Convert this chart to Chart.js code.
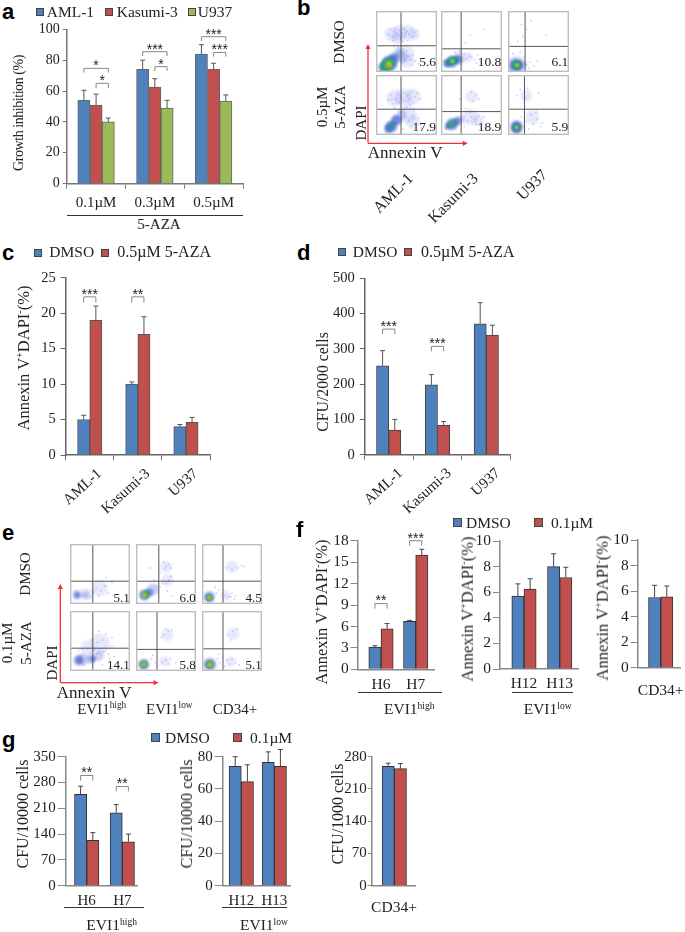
<!DOCTYPE html>
<html lang="en">
<head>
<meta charset="UTF-8">
<title>5-AZA growth inhibition and apoptosis</title>
<script src="https://cdn.jsdelivr.net/npm/chart.js"></script>
<style>
    html, body { margin: 0; padding: 0; background: #fff; }
    body { width: 685px; height: 932px; position: relative; overflow: hidden; font-family: "Liberation Serif", serif; color: #222; }
    canvas { position: absolute; }
    .t { position: absolute; white-space: nowrap; line-height: 1; }
    .t sup { font-size: 62%; line-height: 0; vertical-align: 0.55em; }
    .letter { font-family: "Liberation Sans", sans-serif; font-weight: bold; color: #000; }
    .sq { position: absolute; box-sizing: border-box; border: 1px solid #444; }
    .rule { position: absolute; height: 1px; background: #333; }
    svg { position: absolute; left: 0; top: 0; }
</style>
</head>
<body>
<svg width="685" height="932">
    <g stroke="#f2303c" stroke-width="1.3" fill="#f2303c">
        <path d="M368 143.3V48M368 143.3H464" fill="none"/>
        <path d="M368 44l-2.6 5h5.2zM467.7 143.3l-5-2.6v5.2z" stroke="none"/>
        <path d="M60.3 682.7V588M60.3 682.7H155" fill="none"/>
        <path d="M60.3 584l-2.6 5h5.2zM158.5 682.7l-5-2.6v5.2z" stroke="none"/>
    </g>
</svg>
<script>
    // Bar data ("Top" arrays are the end of the error bar)
    const aCats = ['0.1µM', '0.3µM', '0.5µM'];
    const aAml = [54, 74, 84];
    const aAmlTop = [60.5, 80, 90];
    const aKasumi = [51, 62.5, 74];
    const aKasumiTop = [58, 68, 78];
    const aU937 = [40, 49, 53.5];
    const aU937Top = [42.5, 54, 57.5];

    const lineCats = ['AML-1', 'Kasumi-3', 'U937'];
    const cDmso = [5, 10, 4];
    const cDmsoTop = [5.6, 10.3, 4.3];
    const cAza = [19, 17, 4.6];
    const cAzaTop = [21, 19.5, 5.3];

    const dDmso = [252, 198, 371];
    const dDmsoTop = [295, 227, 431];
    const dAza = [70, 83, 339];
    const dAzaTop = [100, 94, 367];

    const f1Cats = ['H6', 'H7'];
    const f1Dmso = [3.1, 6.7];
    const f1DmsoTop = [3.3, 6.85];
    const f1Aza = [5.65, 16];
    const f1AzaTop = [6.4, 16.8];

    const f2Cats = ['H12', 'H13'];
    const f2Dmso = [5.7, 8];
    const f2DmsoTop = [6.65, 9];
    const f2Aza = [6.25, 7.15];
    const f2AzaTop = [7.05, 7.95];

    const f3Dmso = [5.5];
    const f3DmsoTop = [6.45];
    const f3Aza = [5.55];
    const f3AzaTop = [6.4];

    const g1Dmso = [248, 198];
    const g1DmsoTop = [270, 220];
    const g1Aza = [123, 119];
    const g1AzaTop = [144, 140];

    const g2Dmso = [74, 76.5];
    const g2DmsoTop = [80, 83];
    const g2Aza = [64.5, 74];
    const g2AzaTop = [75, 84.5];

    const g3Dmso = [259];
    const g3DmsoTop = [266];
    const g3Aza = [254];
    const g3AzaTop = [265];

    const BLUE = '#4f81bd', RED = '#c0504d', GREEN = '#9bbb59';

    // Flow plots: [x, y] events and [x, y, radius, level] density blobs, axes 0-100
    const bAmlDmsoDots = [[20,62],[24,70],[27,58],[30,66],[33,72],[35,60],[38,68],[41,56],[43,64],[46,71],[48,60],[51,67],[54,62],[57,70],[60,58],[63,65],[66,60],[28,52],[44,50],[52,52],[45,38],[50,34],[53,26],[56,20],[48,18],[60,28],[44,14],[58,12],[64,18],[30,42],[36,40],[70,14],[22,60],[39,61],[49,64],[34,64]];
    const bAmlDmsoBlobs = [[25,62,7,6],[38,64,8,6],[52,64,8,6],[62,62,6,6],[48,30,9,6],[52,18,7,6],[35,55,6,6],[37,31,5,0],[42,26,6,0],[30,22,6,0],[22,14,8,1],[29,23,4,1],[14,8,6,2],[21,14,6,2],[16,9,4,2],[20,12,5,3],[24,16,3,3],[21,12,2.5,4],[20,11,1.5,5]];
    const bKasDmsoDots = [[42,22],[46,26],[50,24],[38,30],[30,34],[55,20],[60,28],[48,60],[70,70],[40,48],[8,10],[6,20],[58,14],[24,32]];
    const bKasDmsoBlobs = [[30,22,7,6],[44,24,5,6],[10,14,4,1],[18,17,6,1],[28,21,4.5,1],[12,15,3,2],[18,18,4,2],[25,20,3,2],[18,18,2.5,3],[19,18,1.4,4]];
    const bU937DmsoDots = [[30,12],[36,16],[42,10],[34,6],[26,24],[20,32],[24,58],[30,70],[38,84],[16,50],[48,18],[62,60],[8,30],[22,78]];
    const bU937DmsoBlobs = [[14,11,9,0],[26,12,4,6],[12,11,6,1],[17,11,5,1],[14,11,4.5,2],[14,12,3,3],[15,11,1.5,4]];
    const bAmlAzaDots = [[20,58],[24,66],[28,52],[32,60],[36,68],[38,54],[42,62],[46,70],[48,56],[52,66],[55,60],[58,72],[60,52],[64,64],[68,70],[72,60],[30,46],[50,46],[62,44],[48,30],[54,24],[60,32],[66,20],[58,14],[70,28],[44,10],[74,12],[34,56],[44,58],[56,50],[26,60]];
    const bAmlAzaBlobs = [[30,62,8,6],[45,62,9,6],[60,64,8,6],[52,34,9,6],[60,22,7,6],[42,34,5,0],[34,26,5,0],[33,24,5,1],[25,14,6,1],[20,10,4,1],[25,15,3.5,2]];
    const bKasAzaDots = [[44,24],[50,30],[56,26],[62,32],[48,38],[58,18],[66,22],[40,44],[52,56],[58,66],[50,72],[62,60],[30,60],[70,30],[8,10],[38,14],[72,14]];
    const bKasAzaBlobs = [[48,30,8,6],[60,24,6,6],[50,64,6,6],[32,26,4,0],[18,18,6,1],[26,23,4,1],[11,14,3,1],[18,18,3.5,2],[18,18,2,3]];
    const bU937AzaDots = [[26,14],[30,22],[22,30],[34,10],[38,34],[48,26],[54,14],[46,38],[50,70],[30,62],[20,76],[14,66],[56,20],[42,18],[32,78]];
    const bU937AzaBlobs = [[40,30,7,6],[30,66,6,6],[14,13,7,0],[14,15,5,1],[14,11,5,1],[14,13,3.5,2],[14,13,2.5,3],[14,13,1.2,4]];

    const eHighDmsoDots = [[26,14],[30,18],[34,12],[40,20],[44,26],[48,14],[52,22],[58,30],[64,18],[70,36],[60,44],[8,22],[20,24],[72,14],[54,38]];
    const eHighDmsoBlobs = [[50,26,8,6],[30,16,6,6],[25,15,4,0],[12,15,5,0],[12,15,3,1]];
    const eLowDmsoDots = [[30,24],[34,30],[40,28],[44,34],[50,34],[54,40],[58,46],[50,62],[54,66],[48,58],[58,60],[40,52],[52,22],[30,40],[24,60],[60,14],[46,70]];
    const eLowDmsoBlobs = [[50,62,6,6],[52,40,6,6],[28,24,6,0],[14,15,6,0],[22,19,4,1],[14,15,4.5,1],[16,16,3.5,3],[14,15,2,4],[14,15,1,5]];
    const eCdDmsoDots = [[24,18],[28,24],[38,14],[44,12],[50,18],[56,14],[60,60],[66,64],[50,58],[40,60],[54,8],[22,28],[70,62],[48,12]];
    const eCdDmsoBlobs = [[50,62,6,6],[40,14,5,6],[12,12,6,0],[12,11,4.5,1],[12,11,3,3],[12,11,1.7,4],[12,11,.9,5]];
    const eHighAzaDots = [[14,34],[20,36],[28,38],[34,30],[40,34],[44,28],[50,36],[56,32],[60,38],[64,28],[70,42],[66,20],[74,24],[46,48],[54,52],[60,62],[36,52],[48,66],[70,56],[24,10],[38,8],[54,10],[68,8],[80,14]];
    const eHighAzaBlobs = [[50,45,10,6],[30,40,7,6],[48,25,5,0],[35,20,5,0],[22,20,6,0],[15,18,6,0],[15,18,4,1],[38,20,3,1]];
    const eLowAzaDots = [[26,20],[32,14],[28,26],[44,14],[50,18],[54,12],[58,20],[46,60],[54,66],[60,68],[50,70],[42,56],[36,8],[66,14]];
    const eLowAzaBlobs = [[52,60,6,6],[48,16,5,6],[13,11,6,0],[13,11,4.5,1],[13,11,3.2,3],[13,11,1.8,4],[13,11,1,5]];
    const eCdAzaDots = [[26,20],[30,14],[34,22],[28,28],[42,18],[46,12],[50,20],[56,14],[44,60],[52,66],[58,70],[48,52],[38,8],[62,10]];
    const eCdAzaBlobs = [[52,62,6,6],[48,16,5,6],[13,11,7,0],[13,11,5,1],[13,11,3.5,3],[13,11,2,4],[13,11,1,5]];

    const flowColors = ['rgba(120,140,235,.4)', 'rgba(55,90,195,.6)', 'rgba(40,140,150,.85)', '#3cb24c', '#d6d83a', '#e2552e', 'rgba(130,140,240,.2)'];

    function text(x, y, html, size, align, rot, cls, spacing) {
        const el = document.createElement('div');
        el.className = 't' + (cls ? ' ' + cls : '');
        el.innerHTML = html;
        el.style.left = x + 'px';
        el.style.top = y + 'px';
        el.style.fontSize = size + 'px';
        if (spacing) el.style.letterSpacing = spacing + 'px';
        const tx = align === 'l' ? '0' : align === 'r' ? '-100%' : '-50%';
        el.style.transform = 'translate(' + tx + ',-50%)' + (rot ? ' rotate(' + rot + 'deg)' : '');
        document.body.appendChild(el);
    }

    function square(x, y, size, color) {
        const el = document.createElement('div');
        el.className = 'sq';
        el.style.cssText = 'left:' + x + 'px;top:' + y + 'px;width:' + size + 'px;height:' + size + 'px;background:' + color;
        document.body.appendChild(el);
    }

    function rule(x1, x2, y) {
        const el = document.createElement('div');
        el.className = 'rule';
        el.style.cssText = 'left:' + x1 + 'px;width:' + (x2 - x1) + 'px;top:' + y + 'px';
        document.body.appendChild(el);
    }

    // error bars and significance brackets, drawn from the chart's own scales
    const marksPlugin = {
        id: 'marks',
        afterDatasetsDraw(chart, args, opts) {
            const c = chart.ctx, y = chart.scales.y;
            c.save();
            c.strokeStyle = opts.errColor;
            c.lineWidth = 1;
            chart.data.datasets.forEach((ds, d) => {
                chart.getDatasetMeta(d).data.forEach((bar, i) => {
                    const top = y.getPixelForValue(ds.tops[i]);
                    c.beginPath();
                    c.moveTo(bar.x, y.getPixelForValue(ds.data[i].y));
                    c.lineTo(bar.x, top);
                    c.moveTo(bar.x - 2.5, top);
                    c.lineTo(bar.x + 2.5, top);
                    c.stroke();
                });
            });
            (opts.brackets || []).forEach(b => {
                const x1 = chart.getDatasetMeta(b.from).data[b.group].x;
                const x2 = chart.getDatasetMeta(b.to).data[b.group].x;
                const yt = y.getPixelForValue(b.top), yb = y.getPixelForValue(b.bottom);
                c.strokeStyle = '#888';
                c.beginPath();
                c.moveTo(x1, yb);
                c.lineTo(x1, yt);
                c.lineTo(x2, yt);
                c.lineTo(x2, yb);
                c.stroke();
                c.fillStyle = '#222';
                c.font = '14px "Liberation Sans"';
                c.textAlign = 'center';
                c.textBaseline = 'middle';
                c.fillText(b.label, (x1 + x2) / 2, yt - 2);
            });
            c.restore();
        }
    };

    // soft edges on the density blobs (dataset 0), events stay a little crisper
    const gatePlugin = {
        id: 'gate',
        beforeDatasetDraw(chart, args) {
            chart.ctx.save();
            chart.ctx.filter = args.index === 0 ? 'blur(1.3px)' : 'blur(0.5px)';
        },
        afterDatasetDraw(chart) {
            chart.ctx.restore();
        },
        afterDatasetsDraw(chart, args, opts) {
            const c = chart.ctx, a = chart.chartArea;
            const gx = chart.scales.x.getPixelForValue(opts.x), gy = chart.scales.y.getPixelForValue(opts.y);
            c.save();
            c.strokeStyle = '#555';
            c.lineWidth = 1;
            c.beginPath();
            c.moveTo(gx, a.top);
            c.lineTo(gx, a.bottom);
            c.moveTo(a.left, gy);
            c.lineTo(a.right, gy);
            c.stroke();
            c.strokeStyle = '#bdbdbd';
            c.lineWidth = 1.4;
            c.strokeRect(a.left + .7, a.top + .7, a.right - a.left - 1.4, a.bottom - a.top - 1.4);
            c.restore();
        }
    };

    // g: pixel box of the plot, series: [values, tops, colour]
    function barPanel(g) {
        const ml = 46, mt = 18, mr = 6, mb = g.bottomSpace || 26;
        const cv = document.createElement('canvas');
        const cl = Math.floor(g.left) - ml, ct = Math.floor(g.top) - mt;
        const w = Math.ceil(g.right) + mr - cl, h = Math.ceil(g.bottom) + mb - ct;
        cv.width = w;
        cv.height = h;
        cv.style.left = cl + 'px';
        cv.style.top = ct + 'px';
        document.body.appendChild(cv);

        const fixY = s => {
            s.width = g.left - cl;
            s.paddingTop = s.paddingBottom = s.paddingLeft = s.paddingRight = 0;
        };
        const fixX = s => {
            s.height = ct + h - g.bottom;
            s.paddingTop = s.paddingBottom = s.paddingLeft = s.paddingRight = 0;
        };
        const axisColor = g.axisColor || '#666';
        let xScale;
        if (g.centers) {
            // bars sit off-centre on the axis in f and g, so x is numeric here
            const unit = g.centers[1] ? g.centers[1] - g.centers[0] : 34;
            xScale = {
                type: 'linear',
                offset: false,
                min: 1 - (g.centers[0] - g.left) / unit,
                max: 1 + (g.right - g.centers[0]) / unit,
                bounds: 'data',
                afterBuildTicks: s => { s.ticks = g.cats.map((_, i) => ({ value: i + 1 })); },
                afterFit: fixX,
                grid: { drawOnChartArea: false, drawTicks: false, offset: false },
                border: { color: axisColor, width: 1.5 },
                ticks: { callback: v => g.labels ? g.cats[v - 1] : '', color: '#222', padding: g.tickPad, maxRotation: 0, autoSkip: false, font: { family: 'Liberation Serif', size: g.xSize } }
            };
        } else {
            xScale = {
                type: 'category',
                labels: g.cats,
                afterFit: fixX,
                grid: { drawOnChartArea: false, offset: true, tickLength: 5, color: axisColor },
                border: { color: axisColor, width: 1.5 },
                ticks: { color: '#222', padding: g.tickPad, labelOffset: g.labelOffset || 0, minRotation: g.rot || 0, maxRotation: g.rot || 0, autoSkip: false, font: { family: 'Liberation Serif', size: g.xSize } }
            };
        }
        new Chart(cv, {
            type: 'bar',
            data: {
                datasets: g.series.map(s => ({
                    data: s[0].map((v, i) => ({ x: g.centers ? i + 1 : g.cats[i], y: v })),
                    tops: s[1],
                    backgroundColor: s[2],
                    borderColor: g.barBorder || '#444',
                    borderWidth: 1,
                    barThickness: g.barW || 12.2
                }))
            },
            options: {
                responsive: false,
                animation: false,
                events: [],
                layout: { padding: { top: g.top - ct, right: cl + w - g.right, left: 0, bottom: 0 } },
                plugins: {
                    legend: { display: false },
                    tooltip: { enabled: false },
                    marks: { brackets: g.brackets, errColor: g.errColor || '#555' }
                },
                scales: {
                    x: xScale,
                    y: {
                        min: 0,
                        max: g.max,
                        afterFit: fixY,
                        grid: { drawOnChartArea: false, tickLength: g.tickLen, color: axisColor },
                        border: { color: axisColor, width: 1.5 },
                        ticks: { stepSize: g.step, color: '#222', padding: g.yPad, autoSkip: false, font: { family: 'Liberation Serif', size: g.ySize } }
                    }
                }
            },
            plugins: [marksPlugin]
        });
    }

    function flowPanel(x1, x2, y1, y2, gateX, gateY, dots, blobs, value, labelY, size) {
        const cv = document.createElement('canvas');
        cv.width = Math.round(x2 - x1);
        cv.height = Math.round(y2 - y1);
        cv.style.left = x1 + 'px';
        cv.style.top = y1 + 'px';
        document.body.appendChild(cv);
        new Chart(cv, {
            type: 'bubble',
            data: {
                datasets: [
                    { data: blobs.map(p => ({ x: p[0], y: p[1], r: p[2], level: p[3] })), borderWidth: 0, backgroundColor: ctx => flowColors[ctx.raw.level] },
                    { data: dots.map(p => ({ x: p[0], y: p[1], r: 0.9 })), borderWidth: 0, backgroundColor: 'rgba(85,95,225,.3)' }
                ]
            },
            options: {
                responsive: false,
                animation: false,
                events: [],
                layout: { padding: 0, autoPadding: false },
                plugins: { legend: { display: false }, tooltip: { enabled: false }, gate: { x: gateX, y: gateY } },
                scales: { x: { display: false, min: 0, max: 100 }, y: { display: false, min: 0, max: 100 } }
            },
            plugins: [gatePlugin]
        });
        text(x2 - 1, labelY, value, size, 'r');
    }

    // a
    barPanel({
        left: 66.7, right: 243, top: 29.3, bottom: 183.7, max: 100, step: 20, cats: aCats, xSize: 15, ySize: 14, tickPad: 5, tickLen: 4, yPad: 3,
        bottomSpace: 30, axisColor: '#777', barBorder: '#666',
        series: [[aAml, aAmlTop, BLUE], [aKasumi, aKasumiTop, RED], [aU937, aU937Top, GREEN]],
        brackets: [
            { group: 0, from: 0, to: 2, top: 74.7, bottom: 72, label: '*' },
            { group: 0, from: 1, to: 2, top: 65, bottom: 61.8, label: '*' },
            { group: 1, from: 0, to: 2, top: 85.5, bottom: 82.7, label: '***' },
            { group: 1, from: 1, to: 2, top: 75.8, bottom: 73, label: '*' },
            { group: 2, from: 0, to: 2, top: 95.2, bottom: 92.4, label: '***' },
            { group: 2, from: 1, to: 2, top: 85, bottom: 82.3, label: '***' }
        ]
    });
    // c, d
    barPanel({
        left: 65.7, right: 210, top: 277.7, bottom: 455, max: 25, step: 5, cats: lineCats, xSize: 15, ySize: 14.5, tickPad: 5, rot: 42, labelOffset: 10, tickLen: 5, yPad: 5,
        bottomSpace: 72, barBorder: '#555',
        series: [[cDmso, cDmsoTop, BLUE], [cAza, cAzaTop, RED]],
        brackets: [
            { group: 0, from: 0, to: 1, top: 22.3, bottom: 21.5, label: '***' },
            { group: 1, from: 0, to: 1, top: 22.3, bottom: 21.5, label: '**' }
        ]
    });
    barPanel({
        left: 364.3, right: 510.7, top: 278.3, bottom: 454.7, max: 500, step: 100, cats: lineCats, xSize: 15, ySize: 14.5, tickPad: 5, rot: 42, labelOffset: 12, tickLen: 4.5, yPad: 5,
        bottomSpace: 72, barBorder: '#444',
        series: [[dDmso, dDmsoTop, BLUE], [dAza, dAzaTop, RED]],
        brackets: [
            { group: 0, from: 0, to: 1, top: 356, bottom: 342, label: '***' },
            { group: 1, from: 0, to: 1, top: 307, bottom: 293, label: '***' }
        ]
    });
    // f
    barPanel({
        left: 357.7, right: 434, top: 540.7, bottom: 669.3, max: 18, step: 3, cats: f1Cats, labels: true, centers: [381, 415.7], xSize: 15.5, ySize: 15.5, tickPad: 6, tickLen: 7, yPad: 2,
        axisColor: '#888', barBorder: '#333', errColor: '#444',
        series: [[f1Dmso, f1DmsoTop, BLUE], [f1Aza, f1AzaTop, RED]],
        brackets: [
            { group: 0, from: 0, to: 1, top: 9.2, bottom: 8.5, label: '**' },
            { group: 1, from: 0, to: 1, top: 18, bottom: 17.3, label: '***' }
        ]
    });
    barPanel({
        left: 500, right: 578, top: 541, bottom: 669, max: 10, step: 2, cats: f2Cats, labels: true, centers: [524, 559.7], xSize: 15.5, ySize: 15.5, tickPad: 6, tickLen: 7, yPad: 2,
        axisColor: '#888', barBorder: '#333', errColor: '#444',
        series: [[f2Dmso, f2DmsoTop, BLUE], [f2Aza, f2AzaTop, RED]]
    });
    barPanel({
        left: 637.7, right: 680.7, top: 540, bottom: 667.7, max: 10, step: 2, cats: ['CD34+'], labels: false, centers: [660.7], xSize: 15.5, ySize: 15.5, tickPad: 6, tickLen: 7, yPad: 2,
        axisColor: '#888', barBorder: '#333', errColor: '#444',
        series: [[f3Dmso, f3DmsoTop, BLUE], [f3Aza, f3AzaTop, RED]]
    });
    // g
    barPanel({
        left: 65.7, right: 137, top: 756.7, bottom: 885.7, max: 350, step: 70, cats: f1Cats, labels: true, centers: [86.7, 122.3], xSize: 15, ySize: 15, tickPad: 6, tickLen: 8, yPad: 2,
        axisColor: '#888', barBorder: '#333', errColor: '#444',
        series: [[g1Dmso, g1DmsoTop, BLUE], [g1Aza, g1AzaTop, RED]],
        brackets: [
            { group: 0, from: 0, to: 1, top: 299, bottom: 285, label: '**' },
            { group: 1, from: 0, to: 1, top: 269, bottom: 256, label: '**' }
        ]
    });
    barPanel({
        left: 222.7, right: 290, top: 756.7, bottom: 885.7, max: 80, step: 20, cats: f2Cats, labels: true, centers: [241.3, 274.3], xSize: 15, ySize: 15, tickPad: 6, tickLen: 8, yPad: 2,
        axisColor: '#888', barBorder: '#333', errColor: '#444',
        series: [[g2Dmso, g2DmsoTop, BLUE], [g2Aza, g2AzaTop, RED]]
    });
    barPanel({
        left: 371.7, right: 415, top: 756.7, bottom: 885.7, max: 280, step: 70, cats: ['CD34+'], labels: false, centers: [394.3], xSize: 15, ySize: 15, tickPad: 6, tickLen: 4, yPad: 1,
        axisColor: '#888', barBorder: '#333', errColor: '#444',
        series: [[g3Dmso, g3DmsoTop, BLUE], [g3Aza, g3AzaTop, RED]]
    });

    // b
    flowPanel(376, 437, 10.7, 71.3, 41, 43, bAmlDmsoDots, bAmlDmsoBlobs, '5.6', 61.7, 13.5);
    flowPanel(441.3, 502.3, 10.7, 71.3, 33, 38, bKasDmsoDots, bKasDmsoBlobs, '10.8', 61.7, 13.5);
    flowPanel(508, 569.3, 10.7, 71.3, 28, 42, bU937DmsoDots, bU937DmsoBlobs, '6.1', 61.7, 13.5);
    flowPanel(376, 437, 75, 135.3, 41, 43, bAmlAzaDots, bAmlAzaBlobs, '17.9', 126.7, 13.5);
    flowPanel(441.3, 502.3, 75, 135.3, 33, 39, bKasAzaDots, bKasAzaBlobs, '18.9', 126.7, 13.5);
    flowPanel(508, 569.3, 75, 135.3, 27, 43, bU937AzaDots, bU937AzaBlobs, '5.9', 126.7, 13.5);
    // e
    flowPanel(70.3, 130.7, 544.3, 604, 38, 38, eHighDmsoDots, eHighDmsoBlobs, '5.1', 597.3, 13);
    flowPanel(136.3, 196.7, 544.3, 604, 38, 38, eLowDmsoDots, eLowDmsoBlobs, '6.0', 597.3, 13);
    flowPanel(202.3, 262.7, 544.3, 604, 35, 38, eCdDmsoDots, eCdDmsoBlobs, '4.5', 597.3, 13);
    flowPanel(70.3, 130.7, 610.7, 670.7, 38, 38, eHighAzaDots, eHighAzaBlobs, '14.1', 663.7, 13);
    flowPanel(136.3, 196.7, 610.7, 670.7, 35, 36, eLowAzaDots, eLowAzaBlobs, '5.8', 663.7, 13);
    flowPanel(202.3, 262.7, 610.7, 670.7, 35, 37, eCdAzaDots, eCdAzaBlobs, '5.1', 663.7, 13);

    // panel letters
    text(2, 12, 'a', 22, 'l', 0, 'letter');
    text(297, 8, 'b', 22, 'l', 0, 'letter');
    text(2, 253, 'c', 22, 'l', 0, 'letter');
    text(297, 253, 'd', 22, 'l', 0, 'letter');
    text(2, 533, 'e', 22, 'l', 0, 'letter');
    text(296, 530, 'f', 22, 'l', 0, 'letter');
    text(2, 740, 'g', 22, 'l', 0, 'letter');

    // legends
    square(36, 8, 8, BLUE); text(46.7, 12, 'AML-1', 15.5, 'l');
    square(105, 8, 8, RED); text(116.7, 12, 'Kasumi-3', 15.5, 'l');
    square(187.7, 8, 8, GREEN); text(197.7, 12, 'U937', 15.5, 'l');
    square(34.3, 249, 8, BLUE); text(49.3, 252, 'DMSO', 15.5, 'l');
    square(101, 249, 8, RED); text(117.3, 252, '0.5µM 5-AZA', 16, 'l');
    square(338.3, 248, 8, BLUE); text(352.7, 252, 'DMSO', 15.5, 'l');
    square(404.3, 248, 8, RED); text(421, 252, '0.5µM 5-AZA', 16, 'l');
    square(452.7, 518.3, 9, BLUE); text(466, 523, 'DMSO', 15.5, 'l');
    square(534, 518.3, 9, RED); text(551, 523, '0.1µM', 15.5, 'l');
    square(151.3, 733.3, 9, BLUE); text(165, 738, 'DMSO', 15.5, 'l');
    square(232.7, 733.3, 9, RED); text(250, 738, '0.1µM', 15.5, 'l');

    // axis titles
    const annexinTitle = 'Annexin V<sup>+</sup>DAPI<sup>-</sup>(%)';
    text(19, 113, 'Growth inhibition (%)', 14, 'c', -90, '', -0.45);
    text(24, 358, annexinTitle, 16.5, 'c', -90);
    text(323, 382, 'CFU/2000 cells', 15.8, 'c', -90);
    text(321.7, 611.7, annexinTitle, 16.5, 'c', -90);
    text(467.7, 609, annexinTitle, 16.5, 'c', -90);
    text(603.3, 608, annexinTitle, 16.5, 'c', -90);
    text(22.7, 814, 'CFU/10000 cells', 16, 'c', -90);
    text(186.7, 814, 'CFU/10000 cells', 16, 'c', -90);
    text(337.7, 814, 'CFU/1000 cells', 16, 'c', -90);

    // group labels under the axes
    rule(66.7, 243, 215); text(159, 224, '5-AZA', 15, 'c');
    rule(357.7, 442, 692); text(409.3, 709, 'EVI1<sup>high</sup>', 15.5, 'c');
    rule(512, 573, 692); text(547.7, 709, 'EVI1<sup>low</sup>', 15.5, 'c');
    text(660.7, 690, 'CD34+', 15.5, 'c');
    rule(64, 144.3, 907); text(111.7, 925, 'EVI1<sup>high</sup>', 15.5, 'c');
    rule(221.7, 287.3, 907); text(264, 925, 'EVI1<sup>low</sup>', 15.5, 'c');
    text(394, 906.7, 'CD34+', 15.5, 'c');

    // flow panel labels
    text(339.3, 41.7, 'DMSO', 15, 'c', -90);
    text(322, 107, '0.5µM', 15, 'c', -90);
    text(340, 107, '5-AZA', 15, 'c', -90);
    text(360.7, 123, 'DAPI', 15, 'c', -90);
    text(367.7, 151.7, 'Annexin V', 17, 'l');
    text(392.7, 192.7, 'AML-1', 16, 'c', -45);
    text(452.7, 198, 'Kasumi-3', 16, 'c', -45);
    text(531.7, 185, 'U937', 16, 'c', -45);
    text(25, 574, 'DMSO', 15, 'c', -90);
    text(7, 643, '0.1µM', 15, 'c', -90);
    text(26, 643, '5-AZA', 15, 'c', -90);
    text(52.3, 663.3, 'DAPI', 15, 'c', -90);
    text(56.7, 691.7, 'Annexin V', 17, 'l');
    text(101.7, 709, 'EVI1<sup>high</sup>', 15, 'c');
    text(169.3, 709, 'EVI1<sup>low</sup>', 15, 'c');
    text(235, 709, 'CD34+', 15, 'c');
</script>
</body>
</html>
